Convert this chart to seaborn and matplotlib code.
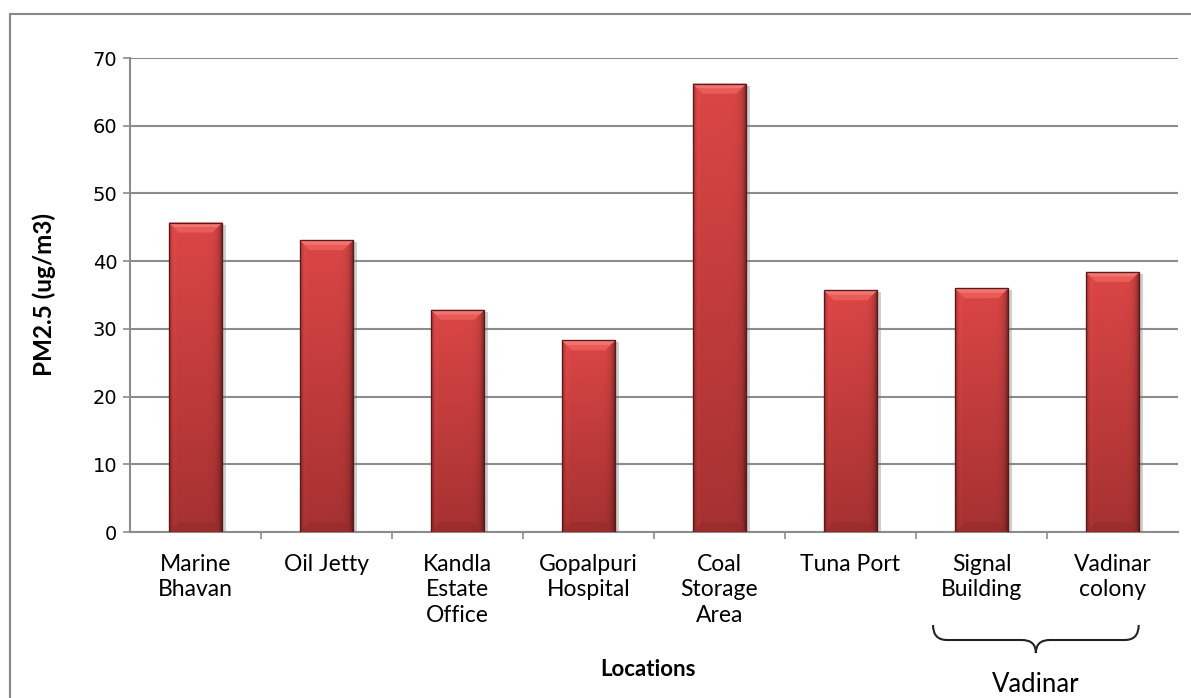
import numpy as np
import pandas as pd
import matplotlib
matplotlib.use("Agg")
import matplotlib.pyplot as plt
import matplotlib.patheffects as pe
import seaborn as sns
from matplotlib.patches import Polygon, Rectangle, PathPatch
from matplotlib.path import Path
from matplotlib.transforms import blended_transform_factory
from matplotlib.colors import to_rgb

# ---- data -------------------------------------------------------------
locations = ["Marine\nBhavan", "Oil Jetty", "Kandla\nEstate\nOffice",
             "Gopalpuri\nHospital", "Coal\nStorage\nArea", "Tuna Port",
             "Signal\nBuilding", "Vadinar\ncolony"]
pm25 = [45.7, 43.1, 32.8, 28.3, 66.2, 35.7, 36.0, 38.4]
y_ticks = [0, 10, 20, 30, 40, 50, 60, 70]
y_label = "PM2.5 (ug/m3)"
x_label = "Locations"
group_label = "Vadinar"
group_members = ["Signal\nBuilding", "Vadinar\ncolony"]

# ---- style ------------------------------------------------------------
sns.set_theme(style="white")
plt.rcParams["font.family"] = ["Lato", "DejaVu Sans"]
GRID = "#8C8C8C"

W, H = 1191, 698
fig = plt.figure(figsize=(W / 100, H / 100), dpi=100)
ax = fig.add_axes([130 / W, 1 - 532 / H, 1048 / W, 474 / H])

df = pd.DataFrame({"location": locations, "pm25": pm25})
sns.barplot(data=df, x="location", y="pm25", color="#C83E3E", width=0.41,
            saturation=1, edgecolor="#5A1A1A", linewidth=0.8, ax=ax, zorder=3)

ax.set_xlim(-0.5, len(locations) - 0.5)
ax.set_ylim(y_ticks[0], y_ticks[-1])
fig.canvas.draw()
o = ax.transData.transform((0, 0))
u1 = ax.transData.transform((1, 1))
px_x, px_y = u1[0] - o[0], u1[1] - o[1]

# shaded fill used for every bar (vertical gradient + darker sides)
top_c = np.array(to_rgb("#DB4646"))
bot_c = np.array(to_rgb("#A63131"))
ny, nx = 200, 80
t = np.linspace(0, 1, ny)[:, None, None]
s = np.linspace(0, 1, nx)
base = top_c * (1 - t) + bot_c * t
shade = (1 - 0.35 * np.exp(-s / 0.03) - 0.55 * np.exp(-(1 - s) / 0.06)
         + 0.05 * np.exp(-((s - 0.09) / 0.04) ** 2))
img = np.clip(base * shade[None, :, None], 0, 1)

dx = 10 / px_x
dy = 10 / px_y
for bar in list(ax.patches):
    x0, y0 = bar.get_x(), bar.get_y()
    w, h = bar.get_width(), bar.get_height()
    top = y0 + h
    bar.set_path_effects([pe.SimplePatchShadow(offset=(2.5, -1.5),
                                               shadow_rgbFace="#777777",
                                               alpha=0.35), pe.Normal()])
    im = ax.imshow(img, extent=[x0, x0 + w, y0, top], aspect="auto",
                   interpolation="bilinear", zorder=3.5)
    im.set_clip_path(bar)
    # top bevel
    ax.add_patch(Polygon([(x0, top), (x0 + w, top), (x0 + w - dx, top - dy),
                          (x0 + dx, top - dy)], closed=True,
                         facecolor="#E95B57", edgecolor="none", zorder=4))
    ax.add_patch(Polygon([(x0, top), (x0 + w, top), (x0 + w - dx * 0.5, top - dy * 0.45),
                          (x0 + dx * 0.5, top - dy * 0.45)], closed=True,
                         facecolor="#F07470", edgecolor="none", zorder=4.1))
    # bottom bevel
    ax.add_patch(Polygon([(x0, y0), (x0 + w, y0), (x0 + w - dx, y0 + dy),
                          (x0 + dx, y0 + dy)], closed=True,
                         facecolor="#952A2A", alpha=0.55, edgecolor="none", zorder=4))
    ax.add_patch(Rectangle((x0, y0), w, h, fill=False, edgecolor="#5A1A1A",
                           linewidth=0.9, zorder=5))

ax.set_xlim(-0.5, len(locations) - 0.5)
ax.set_ylim(y_ticks[0], y_ticks[-1])

# ---- axes, grid, ticks -------------------------------------------------
ax.set_axisbelow(True)
ax.yaxis.grid(True, color=GRID, linewidth=1.5)
ax.xaxis.grid(False)
for side in ("top", "right"):
    ax.spines[side].set_visible(False)
for side in ("left", "bottom"):
    ax.spines[side].set_color(GRID)
    ax.spines[side].set_linewidth(1.5)

ax.set_yticks(y_ticks)
ax.set_yticklabels([str(v) for v in y_ticks])
ax.tick_params(axis="y", length=5, width=1.2, color=GRID, direction="out",
               labelsize=14, pad=4, labelcolor="black", left=True)
for lbl in ax.get_yticklabels():
    lbl.set_fontfamily("DejaVu Sans")

ax.set_xticks(range(len(locations)))
ax.set_xticklabels(locations, linespacing=1.25)
ax.set_xticks(np.arange(0.5, len(locations) - 1, 1), minor=True)
ax.tick_params(axis="x", which="major", length=0, pad=16, labelsize=16.5,
               labelcolor="black")
ax.tick_params(axis="x", which="minor", length=5, width=1.2, color=GRID,
               direction="out", bottom=True)

ax.set_ylabel(y_label, fontsize=17.5, fontweight="bold", color="black")
ax.yaxis.set_label_coords(-0.0705, 0.5)
ax.set_xlabel(x_label, fontsize=16, fontweight="bold", color="black")
ax.xaxis.set_label_coords(0.494, (532 - 670) / 474)
ax.xaxis.label.set_va("center")

# ---- group brace under the Vadinar stations --------------------------
i0 = locations.index(group_members[0])
i1 = locations.index(group_members[-1])
xl, xr = i0 - 0.37, i1 + 0.2
xm = (xl + xr) / 2
y_top, y_mid, y_tip = 1 - 625 / H, 1 - 640 / H, 1 - 653 / H
r = 14 / px_x
verts = [(xl, y_top), (xl, y_mid), (xl + r, y_mid),
         (xm - r, y_mid),
         (xm, y_mid), (xm, y_tip),
         (xm, y_mid), (xm + r, y_mid),
         (xr - r, y_mid),
         (xr, y_mid), (xr, y_top)]
codes = [Path.MOVETO, Path.CURVE3, Path.CURVE3, Path.LINETO, Path.CURVE3,
         Path.CURVE3, Path.CURVE3, Path.CURVE3, Path.LINETO, Path.CURVE3,
         Path.CURVE3]
bt = blended_transform_factory(ax.transData, fig.transFigure)
brace = PathPatch(Path(verts, codes), facecolor="none", edgecolor="#222222",
                  linewidth=1.5, transform=bt, clip_on=False)
fig.add_artist(brace)
fig.text(xm, 1 - 692 / H, group_label, transform=bt, ha="center",
         va="baseline", fontsize=18.5, color="black")

# ---- chart frame -------------------------------------------------------
fig.add_artist(Rectangle((10 / W, -0.05), 1.2, 1 - 14 / H + 0.05,
                         transform=fig.transFigure, fill=False,
                         edgecolor="#878787", linewidth=1.5))

fig.savefig("out.png", dpi=100, facecolor="white")
